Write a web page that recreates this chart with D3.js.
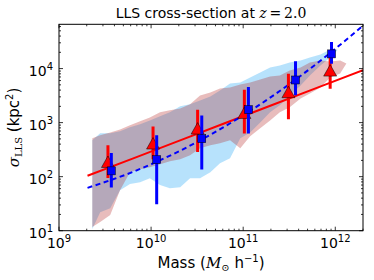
<!DOCTYPE html>
<html>
<head>
<meta charset="utf-8">
<script src="https://cdnjs.cloudflare.com/ajax/libs/d3/7.8.5/d3.min.js"></script>
<style>
  body { margin: 0; background: #fff; }
  text { font-family: "DejaVu Sans", sans-serif; }
  .math { font-family: "DejaVu Serif", serif; }
</style>
</head>
<body>
<div id="chart"></div>
<script>
// shaded bands (mass bins, lower / upper sigma)
var blueBandMass = [2.3e9, 2.8e9, 3.6e9, 4.6e9, 5.9e9, 7.6e9, 9.7e9, 1.25e10, 1.6e10, 2.07e10, 2.65e10, 3.4e10, 4.4e10, 5.6e10, 7.2e10, 9.3e10, 1.19e11, 1.53e11, 1.96e11, 2.5e11, 3.2e11, 4.2e11, 5.3e11, 6.9e11, 8.8e11, 1.05e12];
var blueBandHi = [470, 635, 635, 690, 820, 930, 1100, 1310, 1550, 2000, 2180, 2580, 3060, 3940, 5310, 5540, 6840, 8500, 10500, 11400, 12900, 14100, 16000, 18200, 22500, 22500];
var blueBandLo = [10.7, 22, 26, 56, 73, 79, 93, 70, 61, 64, 93, 93, 121, 177, 220, 515, 660, 1010, 1550, 2090, 3190, 4870, 7450, 11400, 16000, 21600];

var redBandMass = [2.3e9, 2.8e9, 3.6e9, 4.6e9, 5.9e9, 7.6e9, 9.7e9, 1.25e10, 1.6e10, 2.07e10, 2.65e10, 3.4e10, 4.4e10, 5.6e10, 7.2e10, 9.3e10, 1.19e11, 1.53e11, 1.96e11, 2.5e11, 3.2e11, 4.2e11, 5.3e11, 6.9e11, 8.8e11, 1.13e12, 1.32e12];
var redBandHi = [515, 585, 660, 750, 890, 1060, 1250, 1550, 1690, 1830, 2180, 3190, 3620, 4290, 4480, 5080, 5540, 6290, 7140, 7450, 9200, 10500, 12900, 14100, 13500, 14100, 12400];
var redBandLo = [11.7, 14.5, 19.5, 56, 121, 137, 150, 170, 193, 210, 250, 336, 381, 415, 470, 336, 560, 785, 1100, 1550, 1920, 2810, 3470, 4480, 6840, 8100, 12400];

// binned points with error bars
var redMass = [3.4e9, 1.05e10, 3.2e10, 1.03e11, 3.1e11, 8.8e11];
var redSigma = [187, 410, 775, 1510, 3660, 9170];
var redLo = [94, 210, 287, 630, 1150, 4250];
var redHi = [380, 850, 1740, 4060, 8000, 16300];

var blueMass = [3.7e9, 1.15e10, 3.55e10, 1.14e11, 3.7e11, 9.1e11];
var blueSigma = [128, 207, 505, 1740, 6150, 18700];
var blueLo = [63, 31, 135, 630, 3200, 12300];
var blueHi = [275, 585, 1350, 4560, 13700, 31000];

// fits
var fitMass = [2.04e9, 6.3e9, 2.0e10, 6.3e10, 2.0e11, 6.3e11, 2.0e12];
var fitRed = [104, 216, 459, 975, 2070, 4400, 9330];
var fitBlue = [62, 122, 294, 849, 2960, 12400, 62100];

var xTicks = [1e9, 1e10, 1e11, 1e12];
var xTickExp = ["9", "10", "11", "12"];
var yTicks = [1e1, 1e2, 1e3, 1e4];
var yTickExp = ["1", "2", "3", "4"];

var W = 374, H = 280;
var pL = 59, pR = 363, pT = 24.3, pB = 230.7;

var svg = d3.select("#chart").append("svg")
    .attr("width", W)
    .attr("height", H);

var x = d3.scaleLog().domain([1e9, 2e12]).range([pL, pR]);
var y = d3.scaleLog().domain([10, 6.6e4]).range([pB, pT]);

svg.append("clipPath").attr("id", "clip")
  .append("rect")
    .attr("x", pL).attr("y", pT)
    .attr("width", pR - pL).attr("height", pB - pT);

var plot = svg.append("g").attr("clip-path", "url(#clip)");

function band(mass, lo, hi) {
    return mass.map(function(m, i) { return {m: m, lo: lo[i], hi: hi[i]}; });
}

var area = d3.area()
    .x(function(d) { return x(d.m); })
    .y0(function(d) { return y(d.lo); })
    .y1(function(d) { return y(d.hi); });

plot.append("path")
    .datum(band(blueBandMass, blueBandLo, blueBandHi))
    .attr("d", area)
    .attr("fill", "#87cefa")
    .attr("fill-opacity", 0.6);

plot.append("path")
    .datum(band(redBandMass, redBandLo, redBandHi))
    .attr("d", area)
    .attr("fill", "#b22222")
    .attr("fill-opacity", 0.3);

var line = d3.line()
    .x(function(d) { return x(d[0]); })
    .y(function(d) { return y(d[1]); });

plot.append("path")
    .datum(d3.zip(fitMass, fitRed))
    .attr("d", line)
    .attr("fill", "none")
    .attr("stroke", "#ff0000")
    .attr("stroke-width", 2);

plot.append("path")
    .datum(d3.zip(fitMass, fitBlue))
    .attr("d", line.curve(d3.curveMonotoneX))
    .attr("fill", "none")
    .attr("stroke", "#0000ff")
    .attr("stroke-width", 2)
    .attr("stroke-dasharray", "5,3.5");

var redPts = redMass.map(function(m, i) { return {m: m, s: redSigma[i], lo: redLo[i], hi: redHi[i]}; });
var bluePts = blueMass.map(function(m, i) { return {m: m, s: blueSigma[i], lo: blueLo[i], hi: blueHi[i]}; });

plot.selectAll(".red-err")
    .data(redPts)
    .enter()
    .append("line")
    .attr("class", "red-err")
    .attr("x1", function(d) { return x(d.m); })
    .attr("x2", function(d) { return x(d.m); })
    .attr("y1", function(d) { return y(d.lo); })
    .attr("y2", function(d) { return y(d.hi); })
    .attr("stroke", "#ff0000")
    .attr("stroke-width", 3);

plot.selectAll(".red-tri")
    .data(redPts)
    .enter()
    .append("path")
    .attr("class", "red-tri")
    .attr("d", "M0,-6L6.5,5.5L-6.5,5.5Z")
    .attr("transform", function(d) { return "translate(" + x(d.m) + "," + y(d.s) + ")"; })
    .attr("fill", "#ff0000")
    .attr("stroke", "#000")
    .attr("stroke-width", 0.5);

plot.selectAll(".blue-err")
    .data(bluePts)
    .enter()
    .append("line")
    .attr("class", "blue-err")
    .attr("x1", function(d) { return x(d.m); })
    .attr("x2", function(d) { return x(d.m); })
    .attr("y1", function(d) { return y(d.lo); })
    .attr("y2", function(d) { return y(d.hi); })
    .attr("stroke", "#0000ff")
    .attr("stroke-width", 3);

plot.selectAll(".blue-sq")
    .data(bluePts)
    .enter()
    .append("rect")
    .attr("class", "blue-sq")
    .attr("x", function(d) { return x(d.m) - 4; })
    .attr("y", function(d) { return y(d.s) - 4; })
    .attr("width", 8)
    .attr("height", 8)
    .attr("fill", "#0000ff")
    .attr("stroke", "#000")
    .attr("stroke-width", 0.5);

// ticks, inside on all four sides
var xMinor = [], yMinor = [];
for (var e = 9; e <= 12; e++) {
    for (var k = 1; k < 10; k++) {
        var v = k * Math.pow(10, e);
        if (v <= 2e12) xMinor.push(v);
    }
}
for (var e2 = 1; e2 <= 4; e2++) {
    for (var k2 = 1; k2 < 10; k2++) {
        var v2 = k2 * Math.pow(10, e2);
        if (v2 <= 6.6e4) yMinor.push(v2);
    }
}

var ticks = svg.append("g").attr("stroke", "#000").attr("stroke-width", 0.8);

xMinor.forEach(function(v) {
    var len = xTicks.indexOf(v) >= 0 ? 4 : 2;
    ticks.append("line").attr("x1", x(v)).attr("x2", x(v)).attr("y1", pB).attr("y2", pB - len);
    ticks.append("line").attr("x1", x(v)).attr("x2", x(v)).attr("y1", pT).attr("y2", pT + len);
});
yMinor.forEach(function(v) {
    var len = yTicks.indexOf(v) >= 0 ? 4 : 2;
    ticks.append("line").attr("y1", y(v)).attr("y2", y(v)).attr("x1", pL).attr("x2", pL + len);
    ticks.append("line").attr("y1", y(v)).attr("y2", y(v)).attr("x1", pR).attr("x2", pR - len);
});

svg.append("rect")
    .attr("x", pL).attr("y", pT)
    .attr("width", pR - pL).attr("height", pB - pT)
    .attr("fill", "none")
    .attr("stroke", "#000")
    .attr("stroke-width", 1);

// tick labels
xTicks.forEach(function(v, i) {
    var t = svg.append("text")
        .attr("x", x(v))
        .attr("y", 248)
        .attr("text-anchor", "middle")
        .attr("font-size", 14);
    t.append("tspan").text("10");
    t.append("tspan").attr("dy", -6).attr("font-size", 10).text(xTickExp[i]);
});

yTicks.forEach(function(v, i) {
    var t = svg.append("text")
        .attr("x", 53)
        .attr("y", y(v) + 7)
        .attr("text-anchor", "end")
        .attr("font-size", 14);
    t.append("tspan").text("10");
    t.append("tspan").attr("dy", -6).attr("font-size", 10).text(yTickExp[i]);
});

// title
var title = svg.append("text")
    .attr("x", (pL + pR) / 2)
    .attr("y", 18)
    .attr("text-anchor", "middle")
    .attr("font-size", 14);
title.append("tspan").text("LLS cross-section at ");
title.append("tspan").attr("class", "math").attr("font-style", "italic").text("z");
title.append("tspan").attr("class", "math").text("\u2009=\u20092.0");

// x label
var xl = svg.append("text")
    .attr("x", (pL + pR) / 2)
    .attr("y", 268)
    .attr("text-anchor", "middle")
    .attr("font-size", 15);
xl.append("tspan").text("Mass (");
xl.append("tspan").attr("class", "math").attr("font-style", "italic").text("M");
xl.append("tspan").attr("class", "math").attr("font-size", 10).attr("dy", 3).text("\u2299");
xl.append("tspan").attr("dy", -3).text(" h");
xl.append("tspan").attr("dy", -6).attr("font-size", 10).text("\u22121");
xl.append("tspan").attr("dy", 6).text(")");

// y label
var yl = svg.append("text")
    .attr("transform", "translate(19," + ((pT + pB) / 2) + ") rotate(-90)")
    .attr("text-anchor", "middle")
    .attr("font-size", 15);
yl.append("tspan").attr("class", "math").attr("font-style", "italic").text("\u03c3");
yl.append("tspan").attr("class", "math").attr("font-size", 10).attr("dy", 3).text("LLS");
yl.append("tspan").attr("dy", -3).text(" (kpc");
yl.append("tspan").attr("dy", -6).attr("font-size", 10).text("2");
yl.append("tspan").attr("dy", 6).text(")");
</script>
</body>
</html>
